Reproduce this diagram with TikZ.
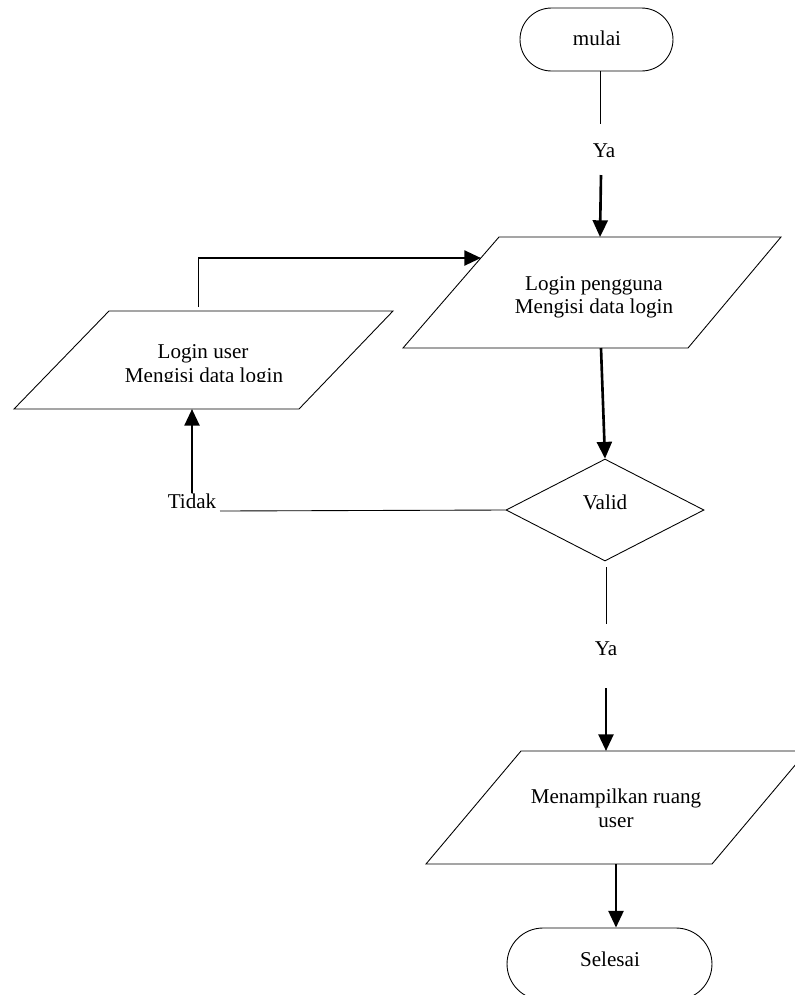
\documentclass[tikz,border=0pt]{standalone}
\usepackage{fontspec}
\setmainfont{Liberation Serif}
\usetikzlibrary{arrows.meta,shapes.geometric,shapes.misc}
\begin{document}
\begin{tikzpicture}[x=0.02cm,y=-0.02cm,
  font=\fontsize{12}{14}\selectfont,
  thinline/.style={line width=0.5pt},
  flow/.style={line width=1.5pt,-{Triangle[width=8.5pt,length=9.5pt]}},
  txt/.style={anchor=base,inner sep=0pt},
  terminal/.style={draw,line width=0.5pt,rounded rectangle,inner sep=0pt},
  decision/.style={draw,line width=0.5pt,diamond,inner sep=0pt},
  io/.style={draw,line width=0.5pt,line join=miter}]
\useasboundingbox (0,0) rectangle (795,995);
\clip (0,0) rectangle (795,995);

% start / end
\node[terminal,minimum width=3.06cm,minimum height=1.26cm] (mulai) at (596.5,39.5) {};
\node[txt] (mulaiT) at (597,45) {mulai};
\node[terminal,minimum width=4.1cm,minimum height=1.44cm] (selesai) at (609.5,964) {};
\node[txt] (selesaiT) at (610,966) {Selesai};

% input: Login pengguna
\coordinate (p1tl) at (499,237);
\coordinate (p1tr) at (781,237);
\coordinate (p1br) at (688,348);
\coordinate (p1bl) at (403,348);
\draw[io] (p1tl) -- (p1tr) -- (p1br) -- (p1bl) -- cycle;
\node[txt] (p1a) at (594,290) {Login pengguna};
\node[txt] (p1b) at (594,313) {Mengisi data login};

% input: Login user
\coordinate (p2tl) at (109,311);
\coordinate (p2tr) at (393,311);
\coordinate (p2br) at (299,409);
\coordinate (p2bl) at (14,409);
\draw[io] (p2tl) -- (p2tr) -- (p2br) -- (p2bl) -- cycle;
\node[txt] (p2a) at (203,358) {Login user};
\begin{scope}
  \clip (0,0) rectangle (795,381);
  \node[txt] (p2b) at (204,382) {Mengisi data login};
\end{scope}

% decision
\node[decision,minimum width=3.96cm,minimum height=2.04cm] (valid) at (605,510) {};
\node[txt] (validT) at (605,509) {Valid};

% output: Menampilkan ruang user
\coordinate (p3tl) at (521,751);
\coordinate (p3tr) at (807,751);
\coordinate (p3br) at (712,864);
\coordinate (p3bl) at (426,864);
\draw[io] (p3tl) -- (p3tr) -- (p3br) -- (p3bl) -- cycle;
\node[txt] (p3a) at (616,803) {Menampilkan ruang};
\node[txt] (p3b) at (616,827) {user};

% labels on the flow
\node[txt] (ya1) at (604,157) {Ya};
\node[txt] (ya2) at (606,655) {Ya};
\node[txt] (tidak) at (192,508) {Tidak};

% connector ends
\coordinate (ya1top) at (600,124);
\coordinate (ya1bot) at (601,175);
\coordinate (p1n) at (600,237);
\coordinate (p1s) at (601,348);
\coordinate (p1w) at (481,258);
\coordinate (vs) at (606,567);
\coordinate (ya2top) at (606,624);
\coordinate (ya2bot) at (606,688);
\coordinate (p3n) at (606,751);
\coordinate (p3s) at (616,864);
\coordinate (tidakR) at (220,511);
\coordinate (tidakU) at (192,493);
\coordinate (p2s) at (192,409);
\coordinate (p2n) at (198,307);
\coordinate (bend) at (198,258);

% connectors
\draw[thinline] (mulai.south -| ya1top) -- (ya1top);
\draw[flow] (ya1bot) -- (p1n);
\draw[flow] (p1s) -- (valid.north);
\draw[thinline] (vs) -- (ya2top);
\draw[flow] (ya2bot) -- (p3n);
\draw[flow] (p3s) -- (selesai.north -| p3s);
\draw[thinline] (valid.west) -- (tidakR);
\draw[flow] (tidakU) -- (p2s);
\draw[thinline] (p2n) -- (bend);
\draw[flow] (bend) -- (p1w);
\end{tikzpicture}
\end{document}
